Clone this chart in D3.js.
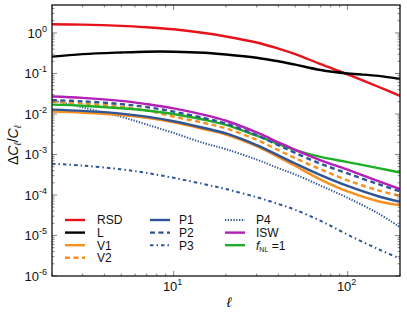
<!DOCTYPE html>
<html>
<head>
<meta charset="utf-8">
<script src="https://cdn.jsdelivr.net/npm/d3@7"></script>
<style>
  body { margin: 0; background: #fff; }
  svg { display: block; }
  text { font-family: "Liberation Sans", Arial, sans-serif; }
</style>
</head>
<body>
<div id="chart"></div>
<script>
const width = 407, height = 316;
const margin = {left: 52, top: 5, right: 7, bottom: 40};

// multipoles where the curves were read
const ell = [2, 3, 5, 7, 10, 15, 20, 30, 40, 50, 70, 100, 150, 200];

const RSD = [1.64, 1.61, 1.5, 1.38, 1.23, 1.0, 0.82, 0.58, 0.41, 0.30, 0.17, 0.095, 0.047, 0.028];
const L   = [0.26, 0.30, 0.33, 0.345, 0.345, 0.325, 0.295, 0.245, 0.20, 0.165, 0.122, 0.10, 0.087, 0.073];
const V1  = [0.0114, 0.0107, 0.0094, 0.0080, 0.0062, 0.0042, 0.0031, 0.0016, 8.6e-4, 5.2e-4, 2.4e-4, 1.22e-4, 7.0e-5, 5.6e-5];
const V2  = [0.020, 0.0182, 0.0150, 0.0122, 0.0086, 0.0060, 0.0044, 0.0023, 1.28e-3, 8.1e-4, 4.3e-4, 2.3e-4, 1.3e-4, 9.5e-5];
const P1  = [0.0128, 0.0119, 0.0102, 0.0086, 0.0066, 0.0045, 0.0033, 0.0017, 9.5e-4, 6.0e-4, 3.1e-4, 1.67e-4, 9.3e-5, 6.8e-5];
const P2  = [0.022, 0.0205, 0.0175, 0.0148, 0.0114, 0.0079, 0.0058, 0.0030, 0.0017, 1.09e-3, 5.9e-4, 3.4e-4, 1.85e-4, 1.23e-4];
const P3  = [5.9e-4, 5.3e-4, 4.3e-4, 3.5e-4, 2.65e-4, 1.85e-4, 1.4e-4, 8.8e-5, 6.0e-5, 4.3e-5, 2.3e-5, 1.05e-5, 4.6e-6, 2.7e-6];
const P4  = [0.022, 0.0145, 0.0085, 0.0055, 0.0034, 0.0019, 1.35e-3, 7.5e-4, 4.6e-4, 3.2e-4, 1.7e-4, 8.5e-5, 3.5e-5, 1.6e-5];
const ISW = [0.027, 0.025, 0.021, 0.0175, 0.0138, 0.0095, 0.0068, 0.0035, 0.0020, 1.3e-3, 7.2e-4, 4.2e-4, 2.2e-4, 1.4e-4];
const fNL = [0.017, 0.016, 0.0138, 0.0122, 0.0100, 0.0072, 0.0054, 0.0029, 0.0018, 1.28e-3, 8.7e-4, 6.5e-4, 4.6e-4, 3.6e-4];

const xTicks = [10, 100];
const yTicks = [1e-6, 1e-5, 1e-4, 1e-3, 1e-2, 1e-1, 1];

const blue = "#2f5597", orange = "#f7901e";
const series = [
  {name: "RSD", values: RSD, color: "#e8121a", dash: null, w: 2.4},
  {name: "L",   values: L,   color: "#000000", dash: null, w: 2.4},
  {name: "V1",  values: V1,  color: orange,    dash: null, w: 2.4},
  {name: "V2",  values: V2,  color: orange,    dash: "5,3.5", w: 2.4},
  {name: "P1",  values: P1,  color: blue,      dash: null, w: 2.4},
  {name: "P2",  values: P2,  color: blue,      dash: "5,3.5", w: 2.4},
  {name: "P3",  values: P3,  color: blue,      dash: "3.5,3,1.5,3", w: 2},
  {name: "P4",  values: P4,  color: blue,      dash: "1.3,1.5", w: 2},
  {name: "ISW", values: ISW, color: "#b41fb8", dash: null, w: 2.4},
  {name: "fNL", values: fNL, color: "#1fae25", dash: null, w: 2.4}
];
// draw order (last on top)
const drawOrder = ["RSD", "L", "P4", "P3", "V1", "P1", "V2", "fNL", "P2", "ISW"];

const x = d3.scaleLog().domain([2, 200]).range([margin.left, width - margin.right]);
const y = d3.scaleLog().domain([1e-6, 4.9]).range([height - margin.bottom, margin.top]);

const svg = d3.select("#chart").append("svg")
    .attr("width", width)
    .attr("height", height);

const defs = svg.append("defs");
defs.append("clipPath").attr("id", "clip")
  .append("rect")
    .attr("x", margin.left).attr("y", margin.top)
    .attr("width", x.range()[1] - margin.left)
    .attr("height", y.range()[0] - margin.top);

const line = d3.line()
    .x(d => x(d[0]))
    .y(d => y(d[1]))
    .curve(d3.curveCatmullRom.alpha(0.5));

const curves = svg.append("g").attr("clip-path", "url(#clip)");
drawOrder.forEach(nm => {
  const s = series.find(d => d.name === nm);
  curves.append("path")
    .datum(ell.map((e, i) => [e, s.values[i]]))
    .attr("d", line)
    .attr("fill", "none")
    .attr("stroke", s.color)
    .attr("stroke-width", s.w)
    .attr("stroke-dasharray", s.dash);
});

// ticks: major + minor, inward on all four sides
function minors(domain) {
  const out = [];
  for (let p = -7; p <= 3; p++) {
    for (let m = 1; m < 10; m++) {
      const v = m * Math.pow(10, p);
      if (v >= domain[0] && v <= domain[1]) out.push({v: v, major: m === 1});
    }
  }
  return out;
}
const tickG = svg.append("g").attr("stroke", "#666").attr("stroke-width", 0.8);
const x0 = x.range()[0], x1 = x.range()[1], y0 = y.range()[0], y1 = y.range()[1];
minors(x.domain()).forEach(t => {
  const len = t.major ? 5 : 2.5;
  tickG.append("line").attr("x1", x(t.v)).attr("x2", x(t.v)).attr("y1", y0).attr("y2", y0 - len);
  tickG.append("line").attr("x1", x(t.v)).attr("x2", x(t.v)).attr("y1", y1).attr("y2", y1 + len);
});
minors(y.domain()).forEach(t => {
  const len = t.major ? 5 : 2.5;
  tickG.append("line").attr("y1", y(t.v)).attr("y2", y(t.v)).attr("x1", x0).attr("x2", x0 + len);
  tickG.append("line").attr("y1", y(t.v)).attr("y2", y(t.v)).attr("x1", x1).attr("x2", x1 - len);
});

svg.append("rect")
    .attr("x", x0).attr("y", y1)
    .attr("width", x1 - x0).attr("height", y0 - y1)
    .attr("fill", "none").attr("stroke", "#111").attr("stroke-width", 1.3);

// tick labels as 10^n
function powLabel(g, v) {
  const e = Math.round(Math.log10(v));
  g.append("tspan").text("10");
  g.append("tspan").attr("font-size", 9).attr("dy", -6).text(e);
}
yTicks.forEach(v => {
  const t = svg.append("text")
    .attr("x", 47).attr("y", y(v) + 5)
    .attr("text-anchor", "end")
    .attr("font-size", 13).attr("fill", "#111");
  powLabel(t, v);
});
xTicks.forEach(v => {
  const t = svg.append("text")
    .attr("x", x(v) - 1).attr("y", 291)
    .attr("text-anchor", "middle")
    .attr("font-size", 13).attr("fill", "#111");
  powLabel(t, v);
});

// axis titles
svg.append("text")
    .attr("x", (x0 + x1) / 2 + 3).attr("y", 307)
    .attr("text-anchor", "middle")
    .attr("font-family", "DejaVu Serif, serif").attr("font-style", "italic")
    .attr("font-size", 14).text("ℓ");

const yl = svg.append("text")
    .attr("transform", "translate(18,145) rotate(-90)")
    .attr("text-anchor", "middle")
    .attr("font-family", "DejaVu Serif, serif")
    .attr("font-size", 14).attr("fill", "#111");
yl.append("tspan").text("Δ");
yl.append("tspan").attr("font-style", "italic").text("C");
yl.append("tspan").attr("font-style", "italic").attr("font-size", 10).attr("dy", 3).text("ℓ");
yl.append("tspan").attr("dy", -3).text("/");
yl.append("tspan").attr("font-style", "italic").text("C");
yl.append("tspan").attr("font-style", "italic").attr("font-size", 10).attr("dy", 3).text("ℓ");

// legend, three columns
const legendCols = [
  {lx: 65, tx: 97, names: ["RSD", "L", "V1", "V2"]},
  {lx: 150, tx: 179, names: ["P1", "P2", "P3"]},
  {lx: 225, tx: 256, names: ["P4", "ISW", "fNL"]}
];
const legend = svg.append("g");
legendCols.forEach(col => {
  col.names.forEach((nm, i) => {
    const s = series.find(d => d.name === nm);
    const ly = 220 + i * 12.6;
    legend.append("line")
      .attr("x1", col.lx).attr("x2", col.lx + 20)
      .attr("y1", ly).attr("y2", ly)
      .attr("stroke", s.color).attr("stroke-width", s.w)
      .attr("stroke-dasharray", s.dash);
    const t = legend.append("text")
      .attr("x", col.tx).attr("y", ly + 4.3)
      .attr("font-size", 12).attr("fill", "#111");
    if (nm === "fNL") {
      t.attr("font-family", "DejaVu Serif, serif");
      t.append("tspan").attr("font-style", "italic").text("f");
      t.append("tspan").attr("font-size", 7).attr("dy", 2).text("NL");
      t.append("tspan").attr("dy", -2).text(" =1");
    } else {
      t.text(nm);
    }
  });
});
</script>
</body>
</html>
